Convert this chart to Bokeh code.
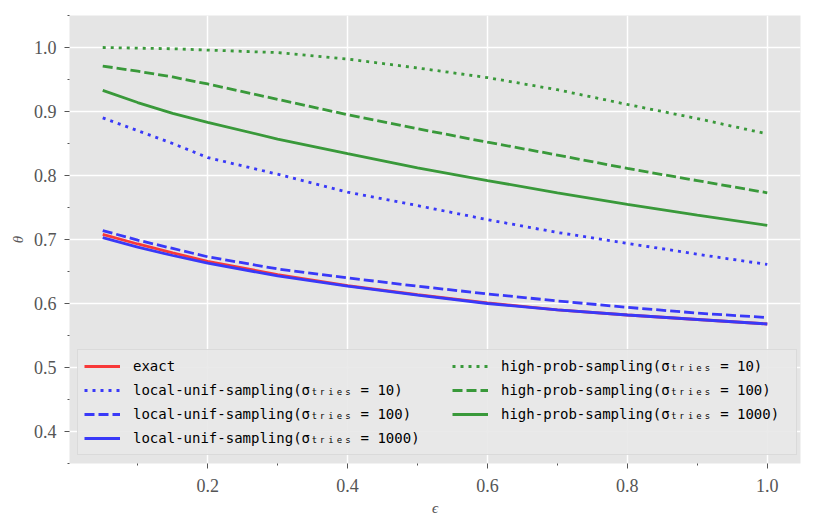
from bokeh.plotting import figure
from bokeh.models import Range1d, FixedTicker, Legend, LegendItem, PrintfTickFormatter
from bokeh.embed import file_html
from bokeh.resources import INLINE

eps = [0.05, 0.1, 0.15, 0.2, 0.3, 0.4, 0.5, 0.6, 0.7, 0.8, 0.9, 1.0]
exact = [0.708, 0.693, 0.679, 0.666, 0.645, 0.628, 0.614, 0.601, 0.590, 0.582, 0.575, 0.568]
lu_10 = [0.890, 0.870, 0.850, 0.828, 0.802, 0.774, 0.753, 0.731, 0.711, 0.694, 0.677, 0.661]
lu_100 = [0.714, 0.699, 0.686, 0.673, 0.654, 0.640, 0.627, 0.615, 0.604, 0.594, 0.585, 0.578]
lu_1000 = [0.703, 0.688, 0.675, 0.663, 0.643, 0.627, 0.613, 0.600, 0.590, 0.582, 0.575, 0.568]
hp_10 = [1.000, 0.999, 0.998, 0.996, 0.992, 0.982, 0.968, 0.953, 0.934, 0.911, 0.889, 0.865]
hp_100 = [0.971, 0.963, 0.954, 0.943, 0.919, 0.895, 0.873, 0.852, 0.832, 0.811, 0.792, 0.773]
hp_1000 = [0.933, 0.914, 0.897, 0.883, 0.857, 0.834, 0.812, 0.792, 0.773, 0.755, 0.738, 0.722]

x_major = [0.2, 0.4, 0.6, 0.8, 1.0]
x_minor = [0.1, 0.3, 0.5, 0.7, 0.9]
y_major = [0.4, 0.5, 0.6, 0.7, 0.8, 0.9, 1.0]
y_minor = [0.35, 0.45, 0.55, 0.65, 0.75, 0.85, 0.95, 1.05]

labels = [
    "exact",
    "local-unif-sampling(σₜᵣᵢₑₛ = 10)",
    "local-unif-sampling(σₜᵣᵢₑₛ = 100)",
    "local-unif-sampling(σₜᵣᵢₑₛ = 1000)",
    "high-prob-sampling(σₜᵣᵢₑₛ = 10)",
    "high-prob-sampling(σₜᵣᵢₑₛ = 100)",
    "high-prob-sampling(σₜᵣᵢₑₛ = 1000)",
]

RED = "#F83939"
BLUE = "#3939F8"
GREEN = "#39993A"
DOT = "3 5"
DASH = "10 4"

p = figure(width=816, height=525, output_backend="svg", toolbar_location=None,
           x_range=Range1d(0.0025, 1.0475), y_range=Range1d(0.35, 1.05),
           min_border_left=69, min_border_right=16, min_border_top=15,
           min_border_bottom=62)
p.background_fill_color = "#E5E5E5"
p.border_fill_color = "white"
p.outline_line_color = None

p.grid.grid_line_color = "white"
p.grid.grid_line_width = 1.5

for ax in (p.xaxis, p.yaxis):
    ax.axis_line_color = None
    ax.major_tick_line_color = "#555555"
    ax.minor_tick_line_color = "#555555"
    ax.major_tick_in = 0
    ax.major_tick_out = 5
    ax.minor_tick_in = 0
    ax.minor_tick_out = 2
    ax.major_label_text_font = "Liberation Serif"
    ax.major_label_text_font_size = "18px"
    ax.major_label_text_color = "#555555"
    ax.axis_label_text_font = "Liberation Serif"
    ax.axis_label_text_font_size = "15px"
    ax.axis_label_text_font_style = "italic"
    ax.axis_label_text_color = "#555555"
    ax.formatter = PrintfTickFormatter(format="%.1f")

p.xaxis.ticker = FixedTicker(ticks=x_major, minor_ticks=x_minor)
p.yaxis.ticker = FixedTicker(ticks=y_major, minor_ticks=y_minor)
p.xaxis.axis_label = "ϵ"
p.yaxis.axis_label = "θ"
p.xaxis.major_label_standoff = 10
p.yaxis.major_label_standoff = 8

lw = 2.8
specs = [
    (exact, RED, "solid"),
    (lu_10, BLUE, DOT),
    (lu_100, BLUE, DASH),
    (lu_1000, BLUE, "solid"),
    (hp_10, GREEN, DOT),
    (hp_100, GREEN, DASH),
    (hp_1000, GREEN, "solid"),
]
renderers = []
for ys, col, dash in specs:
    r = p.line(eps, ys, line_color=col, line_width=lw, line_dash=dash,
               line_cap="butt")
    renderers.append(r)

items = [LegendItem(label=lab, renderers=[r]) for lab, r in zip(labels, renderers)]

common = dict(label_text_font="DejaVu Sans Mono", label_text_font_size="14px",
              label_text_color="black", glyph_width=36, glyph_height=20,
              label_height=20, label_standoff=13, spacing=4, padding=6, margin=0)

legend1 = Legend(items=items[:4], location=(8, 8), label_width=657,
                 background_fill_color="#E8E8E8", background_fill_alpha=0.9,
                 border_line_color="#CCCCCC", border_line_width=1, **common)
legend2 = Legend(items=items[4:], location=(383, 39),
                 background_fill_alpha=0, border_line_color=None, **common)
p.add_layout(legend1, "center")
p.add_layout(legend2, "center")

open("out.html", "w").write(file_html(p, INLINE))
